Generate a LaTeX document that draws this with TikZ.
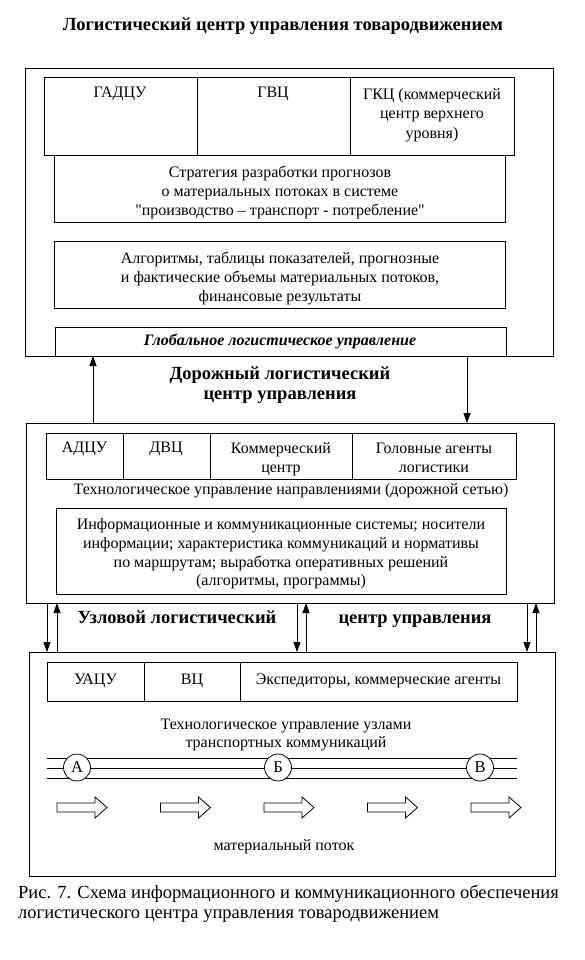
\documentclass[tikz,border=0pt]{standalone}
\usepackage{fontspec}
\setmainfont{Liberation Serif}
\newfontfamily\plainq{Liberation Serif}
\usetikzlibrary{arrows.meta}
\newcommand{\rbox}[5]{\node[box, anchor=north west, minimum width={#4-#2}, minimum height={#5-#3}] (#1) at (#2,#3) {};}
\newcommand{\sq}{{\plainq\symbol{34}}}
\begin{document}
\begin{tikzpicture}[x=1pt,y=-1pt,
  box/.style={draw, line width=0.9pt, inner sep=0pt, outer sep=0pt},
  mtxt/.style={font=\fontsize{16}{19}\selectfont, align=center, inner sep=0pt},
  txt/.style={mtxt, text height=0.7em, text depth=0.22em},
  mttl/.style={font=\fontsize{18.5}{20.5}\selectfont\bfseries, align=center, inner sep=0pt},
  ttl/.style={mttl, text height=0.7em, text depth=0.22em},
  captxt/.style={font=\fontsize{18.5}{18}\selectfont, align=left, inner sep=0pt, anchor=west, text height=0.7em, text depth=0.22em},
  arr/.style={-{Triangle[width=7pt,length=10pt]}, line width=0.8pt},
  rail/.style={line width=0.8pt},
  nodec/.style={circle, draw, fill=white, line width=0.8pt, minimum size=27pt, inner sep=0pt, font=\fontsize{16.5}{18}\selectfont},
  flow/.style={draw, line width=0.8pt}
]
\useasboundingbox (0,0) rectangle (584,960);

% title
\node[ttl] (title) at (283,28) {Логистический центр управления товародвижением};

% ---------- box 1 ----------
\rbox{b1}{25}{68}{553}{356}
\rbox{c11}{44}{77}{197}{155}
\rbox{c12}{197}{77}{350}{155}
\rbox{c13}{350}{77}{514}{155}
\node[txt] (t11) at (120,95) {ГАДЦУ};
\node[txt] (t12) at (273,95) {ГВЦ};
\node[mtxt, font=\fontsize{16}{19.5}\selectfont] (t13) at (432,115) {ГКЦ (коммерческий\\центр верхнего\\уровня)};
\rbox{s1}{54}{155}{505}{222}
\node[mtxt] (ts1) at (280,192) {Стратегия разработки прогнозов\\о материальных потоках в системе\\\sq производство -- транспорт - потребление\sq};
\rbox{s2}{54}{241}{505}{308}
\node[mtxt] (ts2) at (280,278) {Алгоритмы, таблицы показателей, прогнозные\\и фактические объемы материальных потоков,\\финансовые результаты};
\rbox{g1}{55}{327}{506}{356}
\node[txt, font=\fontsize{16}{18}\selectfont\bfseries\itshape] (tg1) at (280,343) {Глобальное логистическое управление};

% middle title
\node[mttl] (title2) at (280,385) {Дорожный логистический\\центр управления};

% ---------- box 2 ----------
\rbox{b2}{26}{423}{554}{603}
\rbox{c21}{46}{433}{123}{479}
\rbox{c22}{123}{433}{210}{479}
\rbox{c23}{210}{433}{352}{479}
\rbox{c24}{352}{433}{516}{479}
\node[txt] (t21) at (84.5,450) {АДЦУ};
\node[txt] (t22) at (166,450) {ДВЦ};
\node[mtxt] (t23) at (281,459.5) {Коммерческий\\центр};
\node[mtxt] (t24) at (434,458) {Головные агенты\\логистики};
\node[txt] (t25) at (291,492) {Технологическое управление направлениями (дорожной сетью)};
\rbox{s3}{56}{508}{506}{594}
\node[mtxt, font=\fontsize{16}{18.6}\selectfont] (ts3) at (281,554) {Информационные и коммуникационные системы; носители\\информации; характеристика коммуникаций и нормативы\\по маршрутам; выработка оперативных решений\\(алгоритмы, программы)};

% arrows between box1 and box2
\coordinate (u1) at (93,0);
\coordinate (d1) at (467,0);
\draw[arr] (b2.north -| u1) -- (b1.south -| u1);
\draw[arr] (b1.south -| d1) -- (b2.north -| d1);

% ---------- box 3 ----------
\rbox{b3}{29}{652}{555}{876}
\rbox{c31}{47}{662}{144}{701}
\rbox{c32}{144}{662}{240}{701}
\rbox{c33}{240}{662}{517}{701}
\node[txt] (t31) at (95.5,682) {УАЦУ};
\node[txt] (t32) at (192,682) {ВЦ};
\node[txt] (t33) at (378.5,682) {Экспедиторы, коммерческие агенты};
\node[mtxt, font=\fontsize{16}{18}\selectfont] (t34) at (286,735) {Технологическое управление узлами\\транспортных коммуникаций};

% arrows between box2 and box3
\coordinate (p1d) at (47,0);
\coordinate (p1u) at (57,0);
\coordinate (p2d) at (297,0);
\coordinate (p2u) at (306,0);
\coordinate (p3d) at (527,0);
\coordinate (p3u) at (536,0);
\draw[arr] (b2.south -| p1d) -- (b3.north -| p1d);
\draw[arr] (b3.north -| p1u) -- (b2.south -| p1u);
\draw[arr] (b2.south -| p2d) -- (b3.north -| p2d);
\draw[arr] (b3.north -| p2u) -- (b2.south -| p2u);
\draw[arr] (b2.south -| p3d) -- (b3.north -| p3d);
\draw[arr] (b3.north -| p3u) -- (b2.south -| p3u);
\node[ttl] (lab1) at (177,621) {Узловой логистический};
\node[ttl] (lab2) at (415,621) {центр управления};

% rails and nodes
\draw[rail] (47,758) -- (517,758);
\draw[rail] (47,768) -- (517,768);
\draw[rail] (47,778) -- (517,778);
\node[nodec] (nA) at (77,767.5) {А};
\node[nodec] (nB) at (278,767.5) {Б};
\node[nodec] (nV) at (480,767.5) {В};

% material flow arrows
\foreach \i in {0,...,4} {
  \pgfmathsetmacro{\xx}{57+103.5*\i}
  \draw[flow] (\xx,803) -- ({\xx+38},803) -- ({\xx+38},797) -- ({\xx+50},807.5) -- ({\xx+38},818) -- ({\xx+38},812) -- (\xx,812) -- cycle;
}
\node[txt] (t35) at (284,848) {материальный поток};

% caption
\node[captxt] (cap1) at (18,896) {Рис. 7. Схема информационного и коммуникационного обеспечения};
\node[captxt] (cap2) at (18,916) {логистического центра управления товародвижением};
\end{tikzpicture}
\end{document}
